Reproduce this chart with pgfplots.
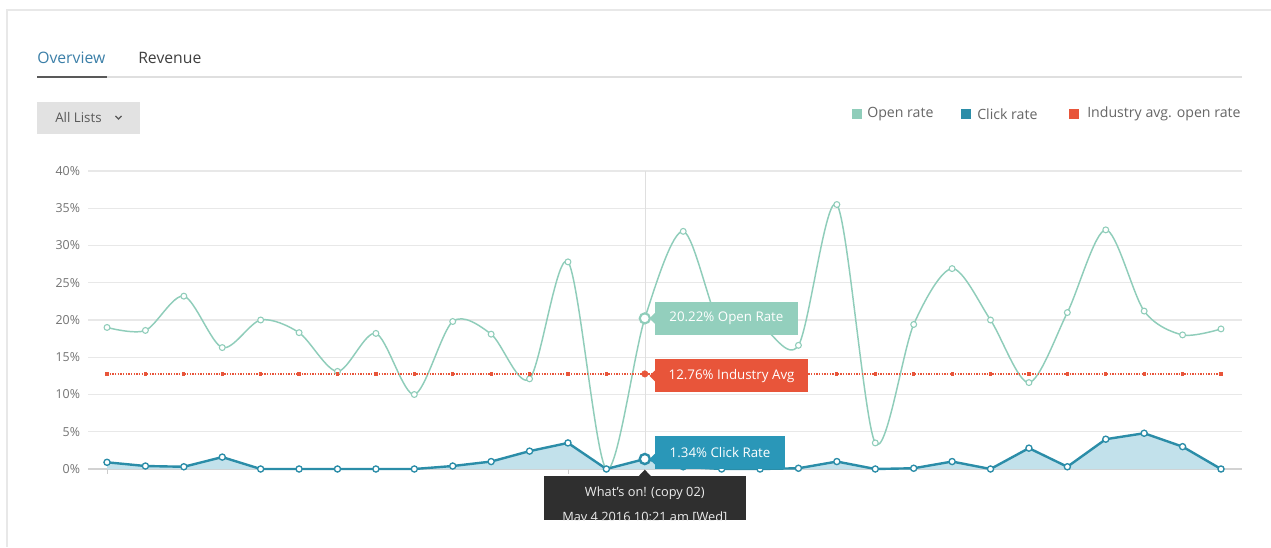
\documentclass[border=0pt]{standalone}
\usepackage{fontspec}
\setmainfont{Open Sans}
\usepackage{pgfplots}
\usepackage{pgfplotstable}
\pgfplotsset{compat=1.18}
\definecolor{openc}{HTML}{8FCDBA}
\definecolor{clickc}{HTML}{2B8DA8}
\definecolor{clickfill}{HTML}{C2E1EB}
\definecolor{indc}{HTML}{E8553A}
\definecolor{tabblue}{HTML}{3B7FA8}
\definecolor{txtgray}{HTML}{666666}
\definecolor{gridc}{HTML}{E8E8E8}
\definecolor{darktip}{HTML}{2F2F2F}
\definecolor{openbox}{HTML}{93CFBD}
\definecolor{clickbox}{HTML}{2A97B8}
\definecolor{btn}{HTML}{E2E2E2}

\pgfplotstableread{
x open click ind
0 19.0 0.9 12.76
1 18.6 0.4 12.76
2 23.2 0.3 12.76
3 16.3 1.6 12.76
4 20.0 0.0 12.76
5 18.3 0.0 12.76
6 13.1 0.0 12.76
7 18.2 0.0 12.76
8 10.0 0.0 12.76
9 19.8 0.4 12.76
10 18.1 1.0 12.76
11 12.1 2.4 12.76
12 27.8 3.5 12.76
13 0.0 0.0 12.76
14 20.22 1.34 12.76
15 31.9 0.3 12.76
16 18.8 0.0 12.76
17 19.2 0.0 12.76
18 16.6 0.1 12.76
19 35.5 1.0 12.76
20 3.5 0.0 12.76
21 19.4 0.1 12.76
22 26.9 1.0 12.76
23 20.0 0.0 12.76
24 11.6 2.8 12.76
25 21.0 0.3 12.76
26 32.1 4.0 12.76
27 21.2 4.8 12.76
28 18.0 3.0 12.76
29 18.8 0.0 12.76
}\datatable

\begin{document}
\begin{tikzpicture}
\useasboundingbox (0,0) rectangle (953.25pt,410.25pt);
\begin{scope}[x=0.75pt,y=-0.75pt,shift={(0pt,410.25pt)}]
  \fill[white] (0,0) rectangle (1271,547);
  \draw[gray!18, line width=1pt] (7,547) -- (7,10) -- (1271,10);
  % tabs
  \node[anchor=base west, inner sep=0pt, font=\fontsize{11.8}{13}\selectfont, text=tabblue] at (37,64) {Overview};
  \node[anchor=base west, inner sep=0pt, font=\fontsize{11.8}{13}\selectfont, text=black!75] at (138,64) {Revenue};
  \draw[gray!25, line width=0.8pt] (37,77) -- (1242,77);
  \draw[black!65, line width=1.2pt] (37,77) -- (107,77);
  % button
  \fill[btn] (37,102) rectangle (140,134);
  \node[anchor=west, inner sep=0pt, font=\fontsize{10}{11}\selectfont, text=black!65] at (55,118) {All Lists};
  \draw[black!65, line width=1pt] (115.5,116) -- (118.5,119) -- (121.5,116);
  % legend
  \fill[openc] (852,109) rectangle (862,119);
  \node[anchor=west, inner sep=0pt, font=\fontsize{10.6}{12}\selectfont, text=txtgray] at (867,114) {Open rate};
  \fill[clickc] (961,109) rectangle (971,119);
  \node[anchor=west, inner sep=0pt, font=\fontsize{10.6}{12}\selectfont, text=txtgray] at (977,114) {Click rate};
  \fill[indc] (1069,109) rectangle (1079,119);
  \node[anchor=west, inner sep=0pt, font=\fontsize{10.6}{12}\selectfont, text=txtgray] at (1087,114) {Industry avg. open rate};
\end{scope}

\begin{axis}[
  at={(66pt,58.5pt)}, anchor=south west,
  scale only axis, width=865.5pt, height=223.5pt,
  xmin=-0.495, xmax=29.547, ymin=0, ymax=40,
  axis x line=bottom, axis y line=left,
  axis line style={draw=none},
  ytick={0,5,...,40},
  yticklabel={\pgfmathprintnumber{\tick}\%},
  xtick=\empty,
  ymajorgrids,
  grid style={gridc, line width=0.8pt},
  major tick length=0pt,
  yticklabel style={font=\fontsize{9.3}{10}\selectfont, text=black!55, xshift=-2.5pt},
  /pgf/number format/assume math mode=true,
  clip=false,
]
\draw[gray!35, line width=1.2pt] (axis cs:-0.495,0) -- (axis cs:29.547,0);
\draw[gray!40] (axis cs:0,0) -- ++(0pt,-4pt);
\draw[gray!40] (axis cs:12,0) -- ++(0pt,-4pt);
\draw[gray!25] (axis cs:14,0) -- (axis cs:14,40);

\addplot[draw=none, fill=clickfill] table[x=x,y=click]{\datatable} \closedcycle;
\addplot[openc, line width=1.1pt, smooth, tension=0.5, mark=*, mark size=2.2pt, mark options={fill=white, line width=0.8pt}] table[x=x,y=open]{\datatable};
\addplot[indc, densely dotted, line width=1pt, mark=square*, mark size=0.7pt, mark options={solid}] table[x=x,y=ind]{\datatable};
\addplot[clickc, line width=1.8pt, mark=*, mark size=2.3pt, mark options={fill=white, line width=1pt}] table[x=x,y=click]{\datatable};

\addplot[openc, only marks, mark=*, mark size=3.8pt, mark options={fill=white, line width=1.6pt}] coordinates {(14,20.22)};
\addplot[clickc, only marks, mark=*, mark size=3.8pt, mark options={fill=white, line width=1.8pt}] coordinates {(14,1.34)};
\addplot[indc, only marks, mark=*, mark size=2.4pt] coordinates {(14,12.76)};

\coordinate (PO) at (axis cs:14,20.22);
\coordinate (PI) at (axis cs:14,12.76);
\coordinate (PC) at (axis cs:14,1.34);
\coordinate (PZ) at (axis cs:14,0);
\end{axis}

% tooltip boxes
\node[fill=openbox, text=white, anchor=west, minimum height=24.75pt, minimum width=107pt, inner xsep=0pt, font=\fontsize{10}{11}\selectfont] (ob) at ([xshift=7.5pt]PO) {20.22\% Open Rate};
\fill[openbox] ([yshift=4pt]ob.west) -- ([xshift=-4pt]ob.west) -- ([yshift=-4pt]ob.west) -- cycle;

\node[fill=indc, text=white, anchor=west, minimum height=24.75pt, minimum width=114.75pt, inner xsep=0pt, font=\fontsize{10}{11}\selectfont] (ib) at ([xshift=7.5pt, yshift=-1.5pt]PI) {12.76\% Industry Avg};
\fill[indc] ([yshift=4pt]ib.west) -- ([xshift=-4pt]ib.west) -- ([yshift=-4pt]ib.west) -- cycle;

\node[fill=clickbox, text=white, anchor=west, minimum height=24.75pt, minimum width=97.5pt, inner xsep=0pt, font=\fontsize{10}{11}\selectfont] (cb) at ([xshift=7.5pt, yshift=4.9pt]PC) {1.34\% Click Rate};
\fill[clickbox] ([yshift=-1pt]cb.west) -- ([xshift=-4pt,yshift=-4.9pt]cb.west) -- ([yshift=-9pt]cb.west) -- cycle;

% dark tooltip
\fill[darktip] ([xshift=-75.75pt, yshift=-5.25pt]PZ) rectangle ([xshift=75.75pt, yshift=-38.25pt]PZ);
\fill[darktip] ([xshift=-4.5pt,yshift=-5.25pt]PZ) -- ([yshift=-0.5pt]PZ) -- ([xshift=4.5pt,yshift=-5.25pt]PZ) -- cycle;
\node[text=white!85!gray, font=\fontsize{9.6}{10}\selectfont] at ([yshift=-18pt]PZ) {What's on! (copy 02)};
\begin{scope}
\clip ([xshift=-75.75pt, yshift=-5.25pt]PZ) rectangle ([xshift=75.75pt, yshift=-38.25pt]PZ);
\node[text=white!85!gray, font=\fontsize{9.6}{10}\selectfont] at ([yshift=-36.8pt]PZ) {May 4 2016 10:21 am [Wed]};
\end{scope}
\end{tikzpicture}
\end{document}
